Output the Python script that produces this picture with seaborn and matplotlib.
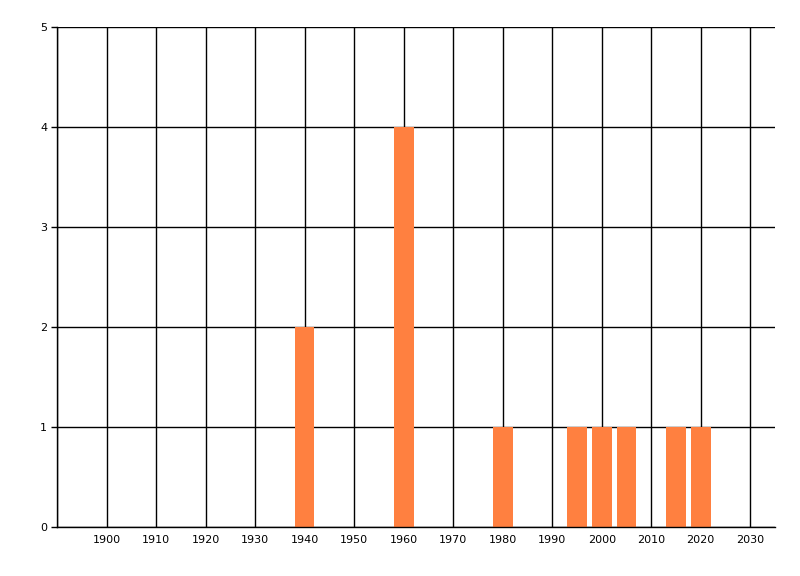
import matplotlib
matplotlib.use("Agg")
import matplotlib.pyplot as plt
import seaborn as sns
import pandas as pd

years = [1940, 1960, 1980, 1995, 2000, 2005, 2015, 2020]
counts = [2, 4, 1, 1, 1, 1, 1, 1]
xticks = list(range(1900, 2031, 10))
yticks = [0, 1, 2, 3, 4, 5]

sns.set_theme(style="white")
plt.rcParams['font.family'] = ['DejaVu Sans']

df = pd.DataFrame({"year": years, "count": counts})

fig = plt.figure(figsize=(8, 5.76), dpi=100)
ax = fig.add_axes([57/800, 1 - 527/576, (775 - 57)/800, 500/576])

# grid lines
for x in range(1890, 2031, 10):
    ax.axvline(x, color="black", lw=1.0, zorder=0)
for y in yticks:
    ax.axhline(y, color="black", lw=1.0, zorder=0)

sns.barplot(data=df, x="year", y="count", native_scale=True, width=0.8,
            color="#FF8040", saturation=1, ax=ax, zorder=2,
            linewidth=0, edgecolor="none")

ax.set_xlim(1890, 2035)
ax.set_ylim(0, 5)
ax.set_xticks(xticks)
ax.set_xticklabels([str(t) for t in xticks])
ax.set_yticks(yticks)
ax.set_yticklabels([str(t) for t in yticks])
ax.set_xlabel("")
ax.set_ylabel("")
ax.tick_params(axis="x", length=0, pad=6, labelsize=8, colors="black")
ax.tick_params(axis="y", length=4, width=1, pad=3, labelsize=8, colors="black", left=True)
for s in ["top", "right"]:
    ax.spines[s].set_visible(False)
for s in ["left", "bottom"]:
    ax.spines[s].set_color("black")
    ax.spines[s].set_linewidth(1.0)
ax.grid(False)

fig.savefig("out.png", dpi=100)
